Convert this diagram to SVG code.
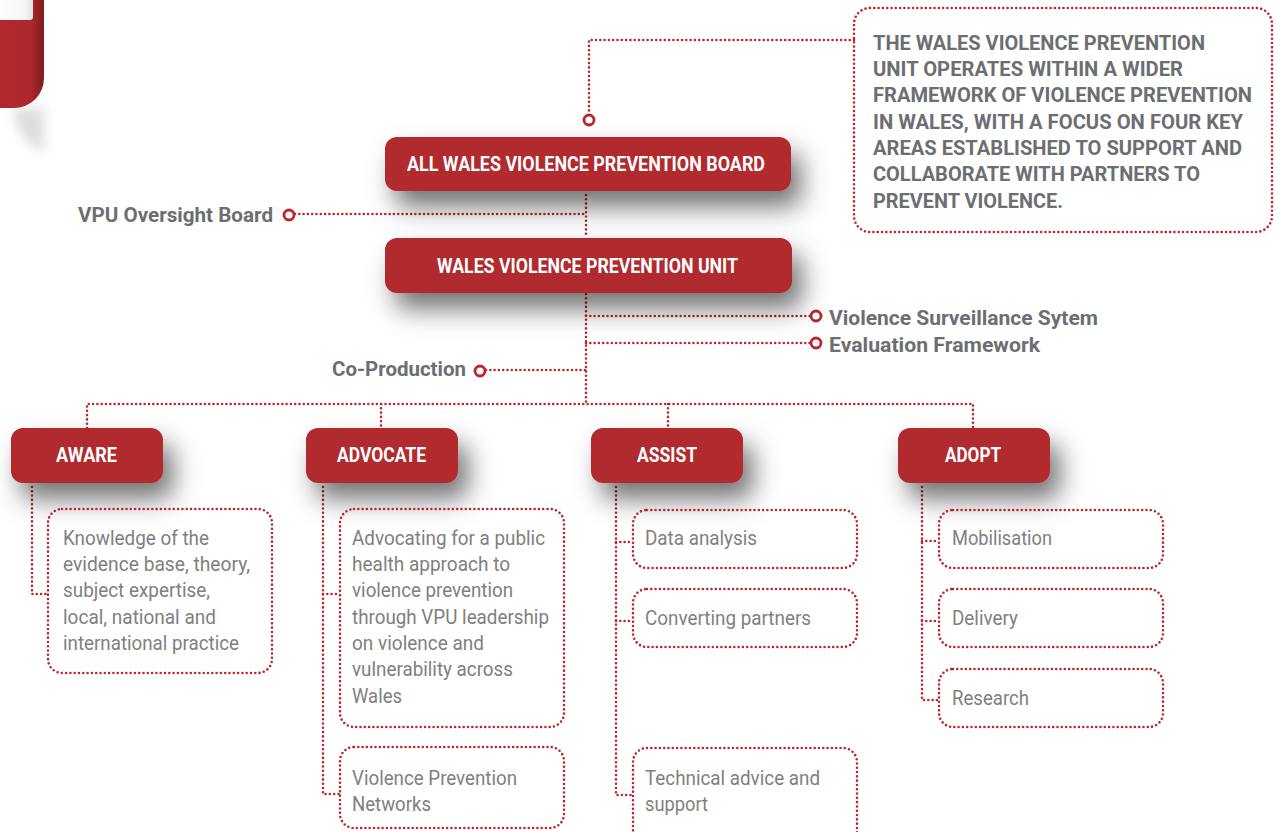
<svg xmlns="http://www.w3.org/2000/svg" width="1277" height="832" viewBox="0 0 1277 832">
<defs>
<filter id="sh" x="-40%" y="-80%" width="190%" height="320%">
<feDropShadow dx="10" dy="16" stdDeviation="13" flood-color="#000" flood-opacity="0.55"/>
</filter>
<filter id="blur" x="-50%" y="-50%" width="200%" height="200%"><feGaussianBlur stdDeviation="6"/></filter>
<linearGradient id="redg" x1="0" y1="0" x2="1" y2="0">
<stop offset="0" stop-color="#b0292d"/><stop offset="0.7" stop-color="#ad282c"/><stop offset="1" stop-color="#7c1b1e"/>
</linearGradient>
<linearGradient id="whg" x1="0" y1="0" x2="1" y2="0">
<stop offset="0" stop-color="#ffffff"/><stop offset="0.8" stop-color="#f6f6f6"/><stop offset="1" stop-color="#e2e2e2"/>
</linearGradient>
</defs>
<style>
.dot{fill:none;stroke:#b8282d;stroke-width:2.6;stroke-linecap:round;stroke-dasharray:0 4.3}
.node{fill:#b0292d}
.ring{fill:#fff;stroke:#b8282d;stroke-width:2.8}
.wt{font-family:"Liberation Sans Narrow",Roboto,"Liberation Sans",sans-serif;font-weight:bold;font-size:21px;fill:#fff}
.gt{font-family:"Liberation Sans Narrow",Roboto,"Liberation Sans",sans-serif;font-weight:bold;font-size:21px;fill:#6d6e71}
.bt{font-family:"Liberation Sans Narrow",Roboto,"Liberation Sans",sans-serif;font-size:21px;fill:#808080}
</style>
<rect width="1277" height="832" fill="#fff"/>

<g id="corner">
<path d="M12,108 H44 V150 Q30,150 18,128 Z" fill="#bbb" filter="url(#blur)" opacity="0.5"/>
<path d="M0,0 H44 V78 A30,30 0 0 1 14,108 H0 Z" fill="url(#redg)"/>
<rect x="-6" y="-6" width="39" height="26" rx="3" fill="url(#whg)"/>
</g>

<g id="connectors">
<path class="dot" d="M854,40 H589 V114"/>
<path class="dot" d="M295,214 H586"/>
<path class="dot" d="M586,195 V237"/>
<path class="dot" d="M586,294 V404"/>
<path class="dot" d="M586,316 H810"/>
<path class="dot" d="M586,343 H810"/>
<path class="dot" d="M486,370 H586"/>
<path class="dot" d="M87,428 V404 H973 V428"/>
<path class="dot" d="M381,404 V428"/>
<path class="dot" d="M668,404 V428"/>
<path class="dot" d="M32,487 V594 H48"/>
<path class="dot" d="M323,487 V794 H340"/>
<path class="dot" d="M323,594 H340"/>
<path class="dot" d="M616,487 V795 H633"/>
<path class="dot" d="M616,542 H633"/>
<path class="dot" d="M616,621 H633"/>
<path class="dot" d="M922,487 V700 H939"/>
<path class="dot" d="M922,541 H939"/>
<path class="dot" d="M922,621 H939"/>
<circle class="ring" cx="589" cy="120" r="5"/>
<circle class="ring" cx="289" cy="215" r="5"/>
<circle class="ring" cx="816" cy="316" r="5"/>
<circle class="ring" cx="816" cy="343" r="5"/>
<circle class="ring" cx="480" cy="371" r="5"/>
</g>

<g id="callout">
<rect class="dot" x="854" y="8" width="418" height="224" rx="16"/>
<text class="gt" x="873" y="50" textLength="332" lengthAdjust="spacingAndGlyphs">THE WALES VIOLENCE PREVENTION</text>
<text class="gt" x="873" y="76" textLength="310" lengthAdjust="spacingAndGlyphs">UNIT OPERATES WITHIN A WIDER</text>
<text class="gt" x="873" y="102" textLength="379" lengthAdjust="spacingAndGlyphs">FRAMEWORK OF VIOLENCE PREVENTION</text>
<text class="gt" x="873" y="129" textLength="370" lengthAdjust="spacingAndGlyphs">IN WALES, WITH A FOCUS ON FOUR KEY</text>
<text class="gt" x="873" y="155" textLength="369" lengthAdjust="spacingAndGlyphs">AREAS ESTABLISHED TO SUPPORT AND</text>
<text class="gt" x="873" y="181" textLength="327" lengthAdjust="spacingAndGlyphs">COLLABORATE WITH PARTNERS TO</text>
<text class="gt" x="873" y="208" textLength="190" lengthAdjust="spacingAndGlyphs">PREVENT VIOLENCE.</text>
</g>

<g id="board">
<rect class="node" x="385" y="137" width="406" height="54" rx="12" filter="url(#sh)"/>
<text class="wt" x="407" y="171" textLength="358" lengthAdjust="spacingAndGlyphs">ALL WALES VIOLENCE PREVENTION BOARD</text>
</g>
<g id="unit">
<rect class="node" x="385" y="238" width="407" height="55" rx="12" filter="url(#sh)"/>
<text class="wt" x="437" y="273" textLength="301" lengthAdjust="spacingAndGlyphs">WALES VIOLENCE PREVENTION UNIT</text>
</g>

<g id="labels">
<text class="gt" x="78" y="222" textLength="195" lengthAdjust="spacingAndGlyphs">VPU Oversight Board</text>
<text class="gt" x="829" y="325" textLength="269" lengthAdjust="spacingAndGlyphs">Violence Surveillance Sytem</text>
<text class="gt" x="829" y="352" textLength="211" lengthAdjust="spacingAndGlyphs">Evaluation Framework</text>
<text class="gt" x="332" y="376" textLength="134" lengthAdjust="spacingAndGlyphs">Co-Production</text>
</g>

<g id="aware">
<rect class="node" x="11" y="428" width="152" height="55" rx="12" filter="url(#sh)"/>
<text class="wt" x="56" y="462" textLength="61" lengthAdjust="spacingAndGlyphs">AWARE</text>
</g>
<g id="advocate">
<rect class="node" x="306" y="428" width="152" height="55" rx="12" filter="url(#sh)"/>
<text class="wt" x="337" y="462" textLength="89" lengthAdjust="spacingAndGlyphs">ADVOCATE</text>
</g>
<g id="assist">
<rect class="node" x="591" y="428" width="152" height="55" rx="12" filter="url(#sh)"/>
<text class="wt" x="637" y="462" textLength="60" lengthAdjust="spacingAndGlyphs">ASSIST</text>
</g>
<g id="adopt">
<rect class="node" x="898" y="428" width="152" height="55" rx="12" filter="url(#sh)"/>
<text class="wt" x="945" y="462" textLength="56" lengthAdjust="spacingAndGlyphs">ADOPT</text>
</g>

<g id="aware-box">
<rect class="dot" x="48" y="509" width="224" height="164" rx="14"/>
<text class="bt" x="63" y="545" textLength="146" lengthAdjust="spacingAndGlyphs">Knowledge of the</text>
<text class="bt" x="63" y="571" textLength="187" lengthAdjust="spacingAndGlyphs">evidence base, theory,</text>
<text class="bt" x="63" y="597" textLength="147" lengthAdjust="spacingAndGlyphs">subject expertise,</text>
<text class="bt" x="63" y="624" textLength="153" lengthAdjust="spacingAndGlyphs">local, national and</text>
<text class="bt" x="63" y="650" textLength="176" lengthAdjust="spacingAndGlyphs">international practice</text>
</g>

<g id="advocate-box1">
<rect class="dot" x="340" y="509" width="224" height="218" rx="14"/>
<text class="bt" x="352" y="545" textLength="193" lengthAdjust="spacingAndGlyphs">Advocating for a public</text>
<text class="bt" x="352" y="571" textLength="158" lengthAdjust="spacingAndGlyphs">health approach to</text>
<text class="bt" x="352" y="597" textLength="161" lengthAdjust="spacingAndGlyphs">violence prevention</text>
<text class="bt" x="352" y="624" textLength="197" lengthAdjust="spacingAndGlyphs">through VPU leadership</text>
<text class="bt" x="352" y="650" textLength="132" lengthAdjust="spacingAndGlyphs">on violence and</text>
<text class="bt" x="352" y="676" textLength="161" lengthAdjust="spacingAndGlyphs">vulnerability across</text>
<text class="bt" x="352" y="703" textLength="50" lengthAdjust="spacingAndGlyphs">Wales</text>
</g>
<g id="advocate-box2">
<rect class="dot" x="340" y="747" width="224" height="81" rx="14"/>
<text class="bt" x="352" y="785" textLength="165" lengthAdjust="spacingAndGlyphs">Violence Prevention</text>
<text class="bt" x="352" y="811" textLength="79" lengthAdjust="spacingAndGlyphs">Networks</text>
</g>

<g id="assist-box1">
<rect class="dot" x="633" y="510" width="224" height="58" rx="14"/>
<text class="bt" x="645" y="545" textLength="112" lengthAdjust="spacingAndGlyphs">Data analysis</text>
</g>
<g id="assist-box2">
<rect class="dot" x="633" y="589" width="224" height="58" rx="14"/>
<text class="bt" x="645" y="625" textLength="166" lengthAdjust="spacingAndGlyphs">Converting partners</text>
</g>
<g id="assist-box3">
<rect class="dot" x="633" y="748" width="224" height="100" rx="14"/>
<text class="bt" x="645" y="785" textLength="175" lengthAdjust="spacingAndGlyphs">Technical advice and</text>
<text class="bt" x="645" y="811" textLength="63" lengthAdjust="spacingAndGlyphs">support</text>
</g>

<g id="adopt-box1">
<rect class="dot" x="939" y="510" width="224" height="58" rx="14"/>
<text class="bt" x="952" y="545" textLength="100" lengthAdjust="spacingAndGlyphs">Mobilisation</text>
</g>
<g id="adopt-box2">
<rect class="dot" x="939" y="589" width="224" height="58" rx="14"/>
<text class="bt" x="952" y="625" textLength="66" lengthAdjust="spacingAndGlyphs">Delivery</text>
</g>
<g id="adopt-box3">
<rect class="dot" x="939" y="669" width="224" height="58" rx="14"/>
<text class="bt" x="952" y="705" textLength="77" lengthAdjust="spacingAndGlyphs">Research</text>
</g>
</svg>
